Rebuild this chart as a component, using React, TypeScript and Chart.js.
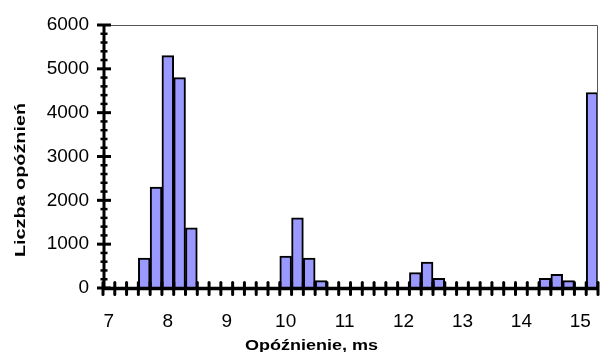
import React, { useEffect, useRef } from "react";
import { Chart, registerables } from "chart.js";

Chart.register(...registerables);

// Category bins (ms), 0.2 ms wide
const categories: number[] = [
  7.0, 7.2, 7.4, 7.6, 7.8, 8.0, 8.2, 8.4, 8.6, 8.8,
  9.0, 9.2, 9.4, 9.6, 9.8, 10.0, 10.2, 10.4, 10.6, 10.8,
  11.0, 11.2, 11.4, 11.6, 11.8, 12.0, 12.2, 12.4, 12.6, 12.8,
  13.0, 13.2, 13.4, 13.6, 13.8, 14.0, 14.2, 14.4, 14.6, 14.8,
  15.0, 15.2,
];

// Number of delays per bin
const counts: number[] = [
  0, 0, 0, 680, 2300, 5300, 4800, 1370, 0, 0,
  0, 0, 0, 0, 0, 730, 1600, 680, 170, 0,
  0, 0, 0, 0, 0, 0, 350, 590, 220, 0,
  0, 0, 0, 0, 0, 0, 0, 220, 310, 170,
  0, 4460,
];

const yMin = 0;
const yMax = 6000;
const yMajorStep = 1000;
const yMinorStep = 200;

const xTitle = "Opóźnienie, ms";
const yTitle = "Liczba opóźnień";

const FONT = "'Liberation Sans', Arial, Helvetica, sans-serif";

const excelAxes = {
  id: "excelAxes",
  afterDatasetsDraw(chart: any) {
    const ctx = chart.ctx as CanvasRenderingContext2D;
    const { left, right, top, bottom } = chart.chartArea;
    const xs = chart.scales.x;
    const ys = chart.scales.y;
    ctx.save();
    // plot frame (top and right)
    ctx.strokeStyle = "#555";
    ctx.lineWidth = 1;
    ctx.beginPath();
    ctx.moveTo(left, top + 0.5);
    ctx.lineTo(right - 0.5, top + 0.5);
    ctx.lineTo(right - 0.5, bottom);
    ctx.stroke();

    ctx.strokeStyle = "#000";
    // y axis
    const ax = left + 1;
    ctx.lineWidth = 3;
    ctx.beginPath();
    ctx.moveTo(ax, top - 1);
    ctx.lineTo(ax, bottom + 1);
    ctx.stroke();
    for (let v = yMin; v <= yMax; v += yMinorStep) {
      const py = ys.getPixelForValue(v);
      const major = v % yMajorStep === 0;
      ctx.lineWidth = major ? 3 : 2.5;
      ctx.beginPath();
      if (major) {
        ctx.moveTo(ax - 7, py);
        ctx.lineTo(ax + 7, py);
      } else {
        ctx.moveTo(ax - 3.5, py);
        ctx.lineTo(ax + 3.5, py);
      }
      ctx.stroke();
    }

    // x axis
    const ay = bottom + 0.5;
    ctx.lineWidth = 3.5;
    ctx.beginPath();
    ctx.moveTo(left, ay);
    ctx.lineTo(right, ay);
    ctx.stroke();
    const n = categories.length;
    const step = xs.getPixelForValue(1) - xs.getPixelForValue(0);
    const x0 = xs.getPixelForValue(0) - step / 2;
    ctx.lineWidth = 3;
    ctx.lineCap = "round";
    for (let i = 0; i <= n; i++) {
      const px = x0 + i * step;
      ctx.beginPath();
      ctx.moveTo(px, ay - 6);
      ctx.lineTo(px, ay + 6);
      ctx.stroke();
    }
    ctx.restore();
  },
  afterDraw(chart: any) {
    const ctx = chart.ctx as CanvasRenderingContext2D;
    ctx.save();
    ctx.fillStyle = "#000";
    ctx.font = `bold 15.5px ${FONT}`;
    ctx.textAlign = "center";
    ctx.textBaseline = "alphabetic";
    // x title
    const wx = ctx.measureText(xTitle).width;
    ctx.save();
    ctx.translate(311.5, 350);
    ctx.scale(133 / wx, 1);
    ctx.fillText(xTitle, 0, 0);
    ctx.restore();
    // y title
    const wy = ctx.measureText(yTitle).width;
    ctx.save();
    ctx.translate(24.5, 180);
    ctx.rotate(-Math.PI / 2);
    ctx.scale(154 / wy, 1);
    ctx.fillText(yTitle, 0, 0);
    ctx.restore();
    ctx.restore();
  },
};

export default function App() {
  const ref = useRef<HTMLCanvasElement | null>(null);
  useEffect(() => {
    if (!ref.current) return;
    const chart = new Chart(ref.current, {
      type: "bar",
      data: {
        labels: categories.map((c) => String(c)),
        datasets: [
          {
            data: counts,
            backgroundColor: "#9999FF",
            borderColor: "#000000",
            borderWidth: 2,
            barPercentage: 1,
            categoryPercentage: 1,
          },
        ],
      },
      options: {
        animation: false,
        responsive: false,
        maintainAspectRatio: false,
        events: [],
        layout: { padding: { top: 25, right: 2, left: 0, bottom: 0 } },
        plugins: {
          legend: { display: false },
          tooltip: { enabled: false },
          title: { display: false },
        },
        scales: {
          x: {
            type: "category",
            offset: true,
            grid: { display: false, drawTicks: false },
            border: { display: false },
            ticks: {
              autoSkip: false,
              maxRotation: 0,
              minRotation: 0,
              padding: 22,
              color: "#000",
              font: { family: FONT, size: 19 },
              callback: (_v: any, i: number) => {
                const c = categories[i];
                return Number.isInteger(c) ? String(c) : "";
              },
            },
            afterFit: (s: any) => {
              s.height = 64;
              s.paddingLeft = 0;
              s.paddingRight = 0;
              s.paddingTop = 0;
              s.paddingBottom = 0;
            },
          },
          y: {
            min: yMin,
            max: yMax,
            grid: { display: false, drawTicks: false },
            border: { display: false },
            ticks: {
              stepSize: yMajorStep,
              padding: 14,
              color: "#000",
              font: { family: FONT, size: 19 },
              callback: (v: any) => String(v),
            },
            afterFit: (s: any) => {
              s.width = 103;
              s.paddingLeft = 0;
              s.paddingRight = 0;
              s.paddingTop = 0;
              s.paddingBottom = 0;
            },
          },
        },
      },
      plugins: [excelAxes],
    });
    return () => chart.destroy();
  }, []);
  return (
    <div style={{ position: "fixed", left: 0, top: 0, width: 600, height: 352, background: "#fff" }}>
      <canvas ref={ref} width={600} height={352} style={{ width: 600, height: 352, display: "block" }} />
    </div>
  );
}
